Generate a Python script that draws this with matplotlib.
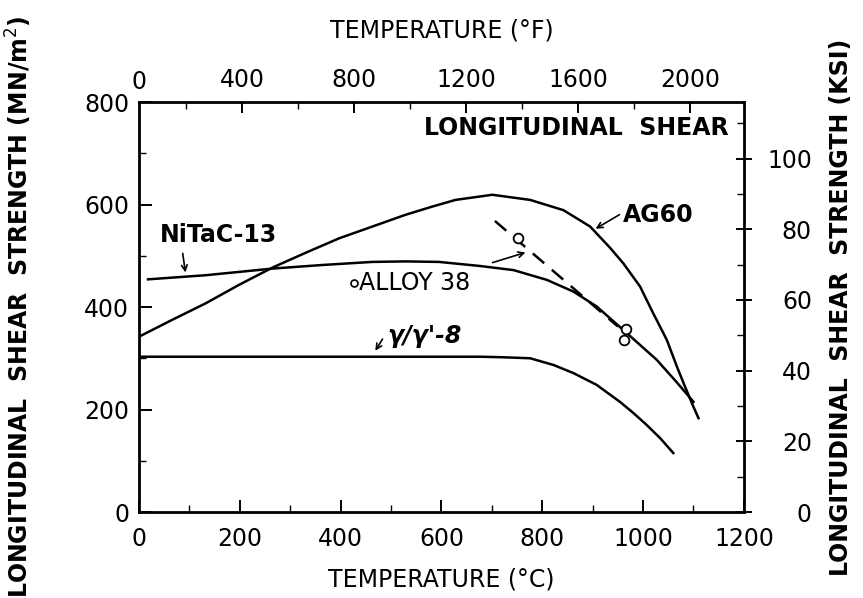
import matplotlib
matplotlib.use("Agg")
import matplotlib.pyplot as plt

# Data (temperature in deg C, strength in MN/m^2)
t_ag60 = [0, 66, 132, 198, 265, 331, 397, 463, 529, 582, 628, 701, 776, 842, 895, 935,
          961, 994, 1020, 1047, 1067, 1083, 1100, 1110]
s_ag60 = [342, 375, 407, 443, 477, 506, 534, 557, 580, 596, 609, 619, 609, 589, 557, 515,
          485, 440, 388, 336, 284, 245, 205, 183]

t_nitac = [18, 132, 265, 364, 463, 529, 595, 677, 743, 809, 862, 908, 961, 994, 1027, 1066, 1100]
s_nitac = [454, 462, 475, 482, 488, 489, 488, 480, 472, 453, 430, 401, 355, 326, 297, 254, 215]

t_gamma = [0, 400, 677, 720, 776, 822, 862, 908, 954, 981, 1007, 1034, 1060]
s_gamma = [303, 303, 303, 302, 300, 287, 271, 248, 215, 193, 170, 144, 115]

t_alloy38 = [751, 966, 962]
s_alloy38 = [534, 357, 336]
t_alloy38_fit = [706, 950]
s_alloy38_fit = [568, 362]

x_ticks_c = [0, 200, 400, 600, 800, 1000, 1200]
y_ticks_mn = [0, 200, 400, 600, 800]
x_ticks_f = [400, 800, 1200, 1600, 2000]
y_ticks_ksi = [0, 20, 40, 60, 80, 100]

plt.rcParams['font.family'] = ['DejaVu Sans']
fs = 17

fig = plt.figure(figsize=(8.63, 5.98), dpi=100)
ax = fig.add_axes([0.161, 0.1438, 0.701, 0.6856])

ax.plot(t_ag60, s_ag60, color='black', lw=1.8)
ax.plot(t_nitac, s_nitac, color='black', lw=1.8)
ax.plot(t_gamma, s_gamma, color='black', lw=1.8)
ax.plot(t_alloy38_fit, s_alloy38_fit, color='black', lw=1.8, ls=(0, (6, 4)))
ax.plot(t_alloy38, s_alloy38, 'o', mfc='white', mec='black', ms=7, mew=1.3)

ax.set_xlim(0, 1200)
ax.set_ylim(0, 800)
ax.set_xticks(x_ticks_c)
ax.set_xticks(range(100, 1200, 200), minor=True)
ax.set_yticks(y_ticks_mn)
ax.set_yticks(range(100, 800, 200), minor=True)
ax.tick_params(direction='in', length=9, width=1.4, labelsize=fs, pad=7)
ax.tick_params(axis='x', pad=11)
ax.tick_params(which='minor', direction='in', length=5, width=1.0)
for sp in ax.spines.values():
    sp.set_linewidth(2)

ax.set_xlabel('TEMPERATURE (°C)', fontsize=fs, labelpad=12)
ax.set_ylabel('LONGITUDINAL  SHEAR  STRENGTH (MN/m$^2$)', fontsize=fs,
              fontweight='bold', labelpad=36)

# top axis in deg F
top = ax.secondary_xaxis('top', functions=(lambda c: c * 1.8 + 32, lambda f: (f - 32) / 1.8))
top.set_xticks(x_ticks_f)
top.set_xticks(range(200, 2200, 400), minor=True)
top.tick_params(direction='in', length=8, width=1.4, labelsize=fs, pad=7)
top.tick_params(which='minor', direction='in', length=5, width=1.0)
top.set_xlabel('TEMPERATURE (°F)', fontsize=fs, labelpad=22)
ax.text(0, 1.02, '0', transform=ax.get_xaxis_transform(), ha='center', va='bottom', fontsize=fs)

# right axis in ksi
right = ax.secondary_yaxis('right', functions=(lambda m: m / 6.895, lambda k: k * 6.895))
right.set_yticks(y_ticks_ksi)
right.set_yticks(range(10, 120, 20), minor=True)
right.tick_params(direction='inout', length=12, width=1.4, labelsize=fs, pad=43)
right.tick_params(which='minor', direction='in', length=5, width=1.0)
for lbl in right.yaxis.get_ticklabels():
    lbl.set_horizontalalignment('right')
right.set_ylabel('LONGITUDINAL  SHEAR  STRENGTH (KSI)', fontsize=fs, fontweight='bold', labelpad=12)

# annotations
ax.text(1170, 749, 'LONGITUDINAL  SHEAR', ha='right', va='center', fontsize=fs, fontweight='bold')
ax.text(157, 540, 'NiTaC-13', ha='center', va='center', fontsize=fs, fontweight='bold')
ax.annotate('', xy=(93, 462), xytext=(86, 510),
            arrowprops=dict(arrowstyle='->', color='black', lw=1.2))
ax.plot([427], [446], 'o', mfc='white', mec='black', ms=5, mew=1.2)
ax.text(437, 447, 'ALLOY 38', ha='left', va='center', fontsize=fs)
ax.annotate('', xy=(772, 508), xytext=(696, 485),
            arrowprops=dict(arrowstyle='->', color='black', lw=1.2))
ax.text(493, 343, "γ/γ'-8", ha='left', va='center', fontsize=fs,
        fontweight='bold', fontstyle='italic')
ax.annotate('', xy=(466, 310), xytext=(486, 342),
            arrowprops=dict(arrowstyle='->', color='black', lw=1.2))
ax.text(960, 580, 'AG60', ha='left', va='center', fontsize=fs, fontweight='bold')
ax.annotate('', xy=(901, 550), xytext=(958, 583),
            arrowprops=dict(arrowstyle='->', color='black', lw=1.2))

fig.savefig('out.png', dpi=100)
